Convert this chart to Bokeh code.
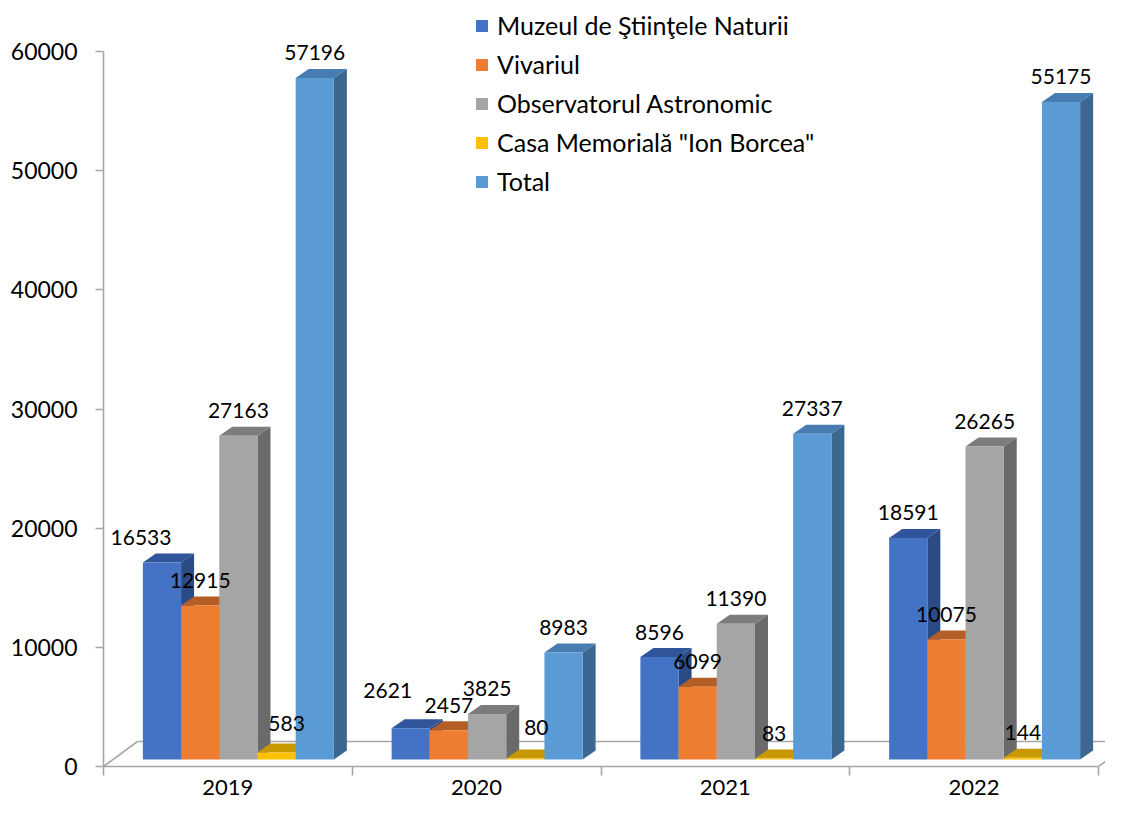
from bokeh.plotting import figure
from bokeh.models import ColumnDataSource, Range1d, FixedTicker, Legend, LegendItem, NumeralTickFormatter
from bokeh.core.properties import value
from bokeh.embed import file_html
from bokeh.resources import INLINE

# ---------------- data ----------------
years = ["2019", "2020", "2021", "2022"]
series_names = ["Muzeul de Ştiinţele Naturii", "Vivariul", "Observatorul Astronomic",
                'Casa Memorială "Ion Borcea"', "Total"]
muzeul = [16533, 2621, 8596, 18591]
vivariul = [12915, 2457, 6099, 10075]
observator = [27163, 3825, 11390, 26265]
casa = [583, 80, 83, 144]
total = [57196, 8983, 27337, 55175]
y_ticks = [0, 10000, 20000, 30000, 40000, 50000, 60000]

series_values = [muzeul, vivariul, observator, casa, total]

# ---------------- style ----------------
front_colors = ["#4472C4", "#ED7D31", "#A5A5A5", "#FFC000", "#5B9BD5"]
top_colors = ["#31559B", "#B45E25", "#7C7C7C", "#C89800", "#467CB2"]
side_colors = ["#2B4B86", "#A0521F", "#6A6A6A", "#A67E00", "#3B6790"]
FONT = "Lato"
AXIS_GRAY = "#A6A6A6"
# manual data-label nudges in screen pixels (series index, year index) -> (dx, dy)
label_nudges = {(0, 0): (-21, 0), (0, 1): (-23, -13), (3, 0): (10, -4), (3, 1): (11, -6)}

# ---------------- geometry (pixels -> data units) ----------------
W, H = 1105, 798
LEFT, BOTTOM = 103, 32
frame_w = W - LEFT
frame_h = H - BOTTOM
px_per_cat = 248.75
px_per_unit = 715.0 / 60000.0
x_end = frame_w / px_per_cat
y_end = frame_h / px_per_unit

n_cat = len(years)
n_ser = len(series_values)
bar_w = 38.2 / px_per_cat
shift = 10.5 / px_per_cat
depth_x = 13.0 / px_per_cat
depth_y = 9.0 / px_per_unit
base = 7.0 / px_per_unit
floor_dx = 34.0 / px_per_cat
floor_dy = 25.0 / px_per_unit

p = figure(width=W, height=H, x_range=Range1d(0, x_end), y_range=Range1d(0, y_end),
           output_backend="svg", toolbar_location=None,
           min_border_left=LEFT, min_border_bottom=BOTTOM, min_border_top=0, min_border_right=0)
p.outline_line_color = None
p.xgrid.visible = False
p.ygrid.visible = False
p.background_fill_color = "white"
p.border_fill_color = "white"

# floor of the 3-D plot area
p.multi_line(xs=[[0, floor_dx], [floor_dx, n_cat + floor_dx], [n_cat, n_cat + floor_dx]],
             ys=[[0, floor_dy], [floor_dy, floor_dy], [0, floor_dy]],
             line_color=AXIS_GRAY, line_width=1.6)

legend_items = []
lab = dict(x=[], y=[], text=[], dx=[], dy=[])
group_start = (1 - n_ser * bar_w) / 2 + shift
for i, vals in enumerate(series_values):
    lefts = [j + group_start + i * bar_w for j in range(n_cat)]
    rights = [l + bar_w for l in lefts]
    tops = [base + v for v in vals]
    side_xs = [[r, r + depth_x, r + depth_x, r] for r in rights]
    side_ys = [[base, base + depth_y, t + depth_y, t] for t in tops]
    top_xs = [[l, r, r + depth_x, l + depth_x] for l, r in zip(lefts, rights)]
    top_ys = [[t, t, t + depth_y, t + depth_y] for t in tops]
    p.patches(xs=side_xs, ys=side_ys, fill_color=side_colors[i], line_color=None)
    p.patches(xs=top_xs, ys=top_ys, fill_color=top_colors[i], line_color=None)
    src = ColumnDataSource(dict(left=lefts, right=rights, bottom=[base] * n_cat, top=tops))
    r = p.quad(left="left", right="right", bottom="bottom", top="top", source=src,
               fill_color=front_colors[i], line_color=None)
    legend_items.append(LegendItem(label=series_names[i], renderers=[r]))
    for j, (l, t, v) in enumerate(zip(lefts, tops, vals)):
        ndx, ndy = label_nudges.get((i, j), (0, 0))
        lab["x"].append(l + bar_w / 2)
        lab["y"].append(t)
        lab["text"].append(str(v))
        lab["dx"].append(ndx)
        lab["dy"].append(-25 + ndy)

p.text(x="x", y="y", text="text", x_offset="dx", y_offset="dy", source=ColumnDataSource(lab),
       text_align="center", text_baseline="middle",
       text_font=value(FONT), text_font_size="21px", text_color="black")

# y axis
p.yaxis.ticker = FixedTicker(ticks=y_ticks, minor_ticks=[])
p.yaxis.formatter = NumeralTickFormatter(format="0")
p.yaxis.bounds = (0, 60000)
p.yaxis.axis_line_color = AXIS_GRAY
p.yaxis.axis_line_width = 1.6
p.yaxis.major_tick_line_color = AXIS_GRAY
p.yaxis.major_tick_line_width = 1.6
p.yaxis.major_tick_out = 8
p.yaxis.major_tick_in = 0
p.yaxis.major_label_standoff = 18
p.yaxis.major_label_text_font = FONT
p.yaxis.major_label_text_font_size = "23px"
p.yaxis.major_label_text_color = "black"

# x axis
centers = [j + 0.5 for j in range(n_cat)]
p.xaxis.ticker = FixedTicker(ticks=centers, minor_ticks=list(range(n_cat + 1)))
p.xaxis.major_label_overrides = {c: y for c, y in zip(centers, years)}
p.xaxis.bounds = (0, n_cat)
p.xaxis.axis_line_color = AXIS_GRAY
p.xaxis.axis_line_width = 1.6
p.xaxis.major_tick_line_color = None
p.xaxis.major_tick_out = 0
p.xaxis.major_tick_in = 0
p.xaxis.minor_tick_line_color = AXIS_GRAY
p.xaxis.minor_tick_line_width = 1.6
p.xaxis.minor_tick_out = 9
p.xaxis.minor_tick_in = 0
p.xaxis.major_label_standoff = 4
p.xaxis.major_label_text_font = FONT
p.xaxis.major_label_text_font_size = "22px"
p.xaxis.major_label_text_color = "black"

legend = Legend(items=legend_items, location=(371, 569), orientation="vertical",
                label_text_font=FONT, label_text_font_size="25px", label_text_color="black",
                glyph_width=15, glyph_height=15, label_standoff=8, label_height=32,
                spacing=7, padding=0, margin=0, border_line_color=None,
                background_fill_alpha=0)
p.add_layout(legend)

open("out.html", "w").write(file_html(p, INLINE))
